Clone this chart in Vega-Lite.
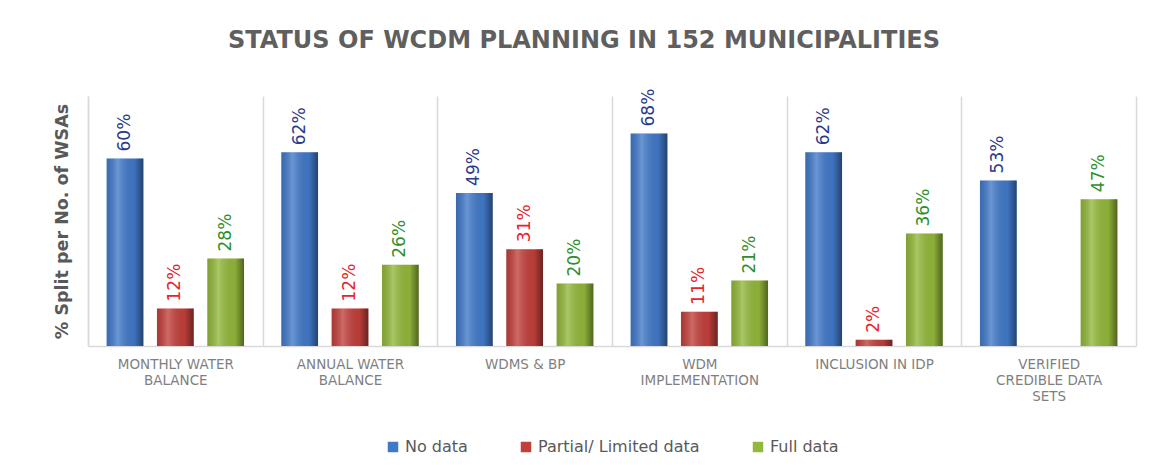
{
  "$schema": "https://vega.github.io/schema/vega-lite/v6.json",
  "width": 1048,
  "height": 250,
  "padding": {"left": 52, "top": 28, "right": 10, "bottom": 5},
  "background": "white",
  "title": {
    "text": "STATUS OF WCDM PLANNING IN 152 MUNICIPALITIES",
    "font": "DejaVu Sans",
    "fontSize": 24,
    "fontWeight": "bold",
    "color": "#5f5f5f",
    "offset": 36,
    "dx": -28,
    "anchor": "middle"
  },
  "config": {
    "view": {"stroke": null},
    "legend": {"layout": {"bottom": {"anchor": "middle"}}}
  },
  "data": {
    "values": [
      {"item": "MONTHLY WATER BALANCE", "series": "No data", "value": 0.60},
      {"item": "MONTHLY WATER BALANCE", "series": "Partial/ Limited data", "value": 0.12},
      {"item": "MONTHLY WATER BALANCE", "series": "Full data", "value": 0.28},
      {"item": "ANNUAL WATER BALANCE", "series": "No data", "value": 0.62},
      {"item": "ANNUAL WATER BALANCE", "series": "Partial/ Limited data", "value": 0.12},
      {"item": "ANNUAL WATER BALANCE", "series": "Full data", "value": 0.26},
      {"item": "WDMS & BP", "series": "No data", "value": 0.49},
      {"item": "WDMS & BP", "series": "Partial/ Limited data", "value": 0.31},
      {"item": "WDMS & BP", "series": "Full data", "value": 0.20},
      {"item": "WDM IMPLEMENTATION", "series": "No data", "value": 0.68},
      {"item": "WDM IMPLEMENTATION", "series": "Partial/ Limited data", "value": 0.11},
      {"item": "WDM IMPLEMENTATION", "series": "Full data", "value": 0.21},
      {"item": "INCLUSION IN IDP", "series": "No data", "value": 0.62},
      {"item": "INCLUSION IN IDP", "series": "Partial/ Limited data", "value": 0.02},
      {"item": "INCLUSION IN IDP", "series": "Full data", "value": 0.36},
      {"item": "VERIFIED CREDIBLE DATA SETS", "series": "No data", "value": 0.53},
      {"item": "VERIFIED CREDIBLE DATA SETS", "series": "Full data", "value": 0.47}
    ]
  },
  "encoding": {
    "x": {
      "field": "item",
      "type": "nominal",
      "sort": ["MONTHLY WATER BALANCE", "ANNUAL WATER BALANCE", "WDMS & BP", "WDM IMPLEMENTATION", "INCLUSION IN IDP", "VERIFIED CREDIBLE DATA SETS"],
      "scale": {"paddingInner": 0, "paddingOuter": 0},
      "axis": {
        "title": null,
        "labelAngle": 0,
        "ticks": false,
        "grid": true,
        "tickBand": "extent",
        "gridColor": "#d9d9d9",
        "gridWidth": 1.5,
        "domainColor": "#d9d9d9",
        "domainWidth": 1.5,
        "labelFont": "DejaVu Sans",
        "labelFontSize": 13.5,
        "labelColor": "#7f7f7f",
        "labelPadding": 11,
        "labelLineHeight": 16,
        "labelBaseline": "top",
        "labelLimit": 300,
        "labelExpr": "datum.label == 'MONTHLY WATER BALANCE' ? ['MONTHLY WATER','BALANCE'] : datum.label == 'ANNUAL WATER BALANCE' ? ['ANNUAL WATER','BALANCE'] : datum.label == 'WDM IMPLEMENTATION' ? ['WDM','IMPLEMENTATION'] : datum.label == 'VERIFIED CREDIBLE DATA SETS' ? ['VERIFIED','CREDIBLE DATA','SETS'] : datum.label"
      }
    },
    "xOffset": {
      "field": "series",
      "type": "nominal",
      "sort": ["No data", "Partial/ Limited data", "Full data"],
      "scale": {"paddingInner": 0.27, "paddingOuter": 0.37}
    },
    "y": {
      "field": "value",
      "type": "quantitative",
      "scale": {"domain": [0, 0.8]}
    }
  },
  "layer": [
    {
      "mark": {"type": "bar"},
      "encoding": {
        "y": {
          "field": "value",
          "type": "quantitative",
          "axis": {
            "orient": "left",
            "labels": false,
            "ticks": false,
            "grid": false,
            "domain": true,
            "domainColor": "#d9d9d9",
            "domainWidth": 1.5,
            "title": "% Split per No. of WSAs",
            "titleFont": "DejaVu Sans",
            "titleFontSize": 17.5,
            "titleFontWeight": "bold",
            "titleColor": "#595959",
            "titlePadding": 17
          }
        },
        "color": {
          "field": "series",
          "type": "nominal",
          "sort": ["No data", "Partial/ Limited data", "Full data"],
          "scale": {"domain": ["No data", "Partial/ Limited data", "Full data"], "range": ["#4179c9", "#c2403b", "#93b83a"]},
          "legend": {
            "orient": "bottom",
            "direction": "horizontal",
            "title": null,
            "symbolType": "square",
            "symbolSize": 110,
            "symbolStrokeWidth": 0,
            "labelFont": "DejaVu Sans",
            "labelFontSize": 16,
            "labelColor": "#595959",
            "labelLimit": 400,
            "columnPadding": 50,
            "offset": 36
          }
        }
      }
    },
    {
      "mark": {
        "type": "bar",
        "fill": {
          "gradient": "linear",
          "x1": 0, "y1": 0, "x2": 1, "y2": 0,
          "stops": [
            {"offset": 0, "color": "rgba(0,0,0,0.12)"},
            {"offset": 0.3, "color": "rgba(255,255,255,0.22)"},
            {"offset": 0.75, "color": "rgba(0,0,0,0.05)"},
            {"offset": 1, "color": "rgba(0,0,0,0.45)"}
          ]
        }
      },
      "encoding": {
        "y": {"field": "value", "type": "quantitative", "axis": null}
      }
    },
    {
      "mark": {
        "type": "text",
        "angle": 270,
        "align": "left",
        "baseline": "middle",
        "dx": 7,
        "font": "DejaVu Sans",
        "fontSize": 17
      },
      "encoding": {
        "y": {"field": "value", "type": "quantitative", "axis": null},
        "text": {"field": "value", "type": "quantitative", "format": ".0%"},
        "color": {
          "field": "series",
          "type": "nominal",
          "scale": {"domain": ["No data", "Partial/ Limited data", "Full data"], "range": ["#2a3a8c", "#e4262c", "#2e8f2e"]},
          "legend": null
        }
      }
    }
  ],
  "resolve": {"scale": {"color": "independent"}, "axis": {"y": "independent"}}
}
